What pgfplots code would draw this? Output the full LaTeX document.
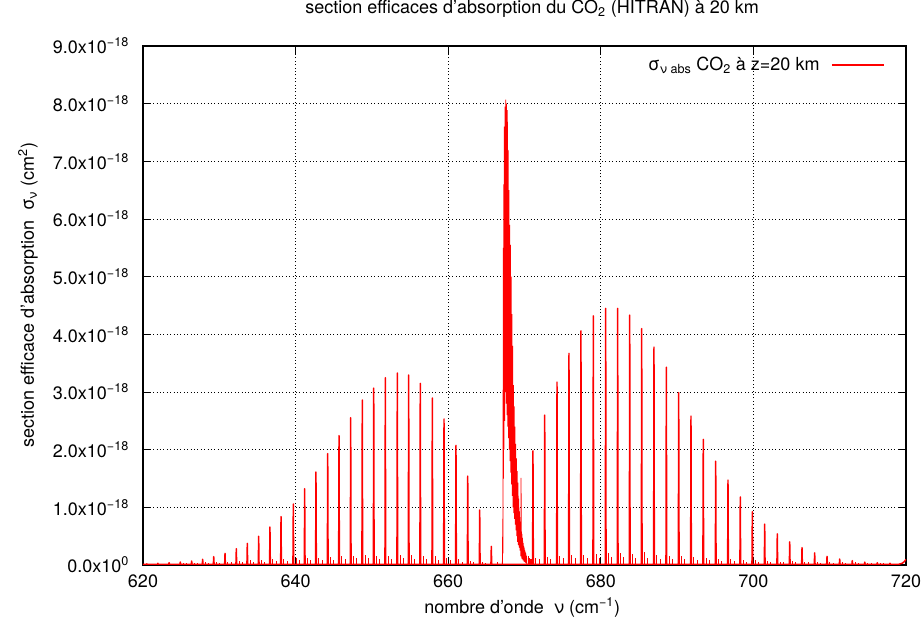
\documentclass[border=0pt]{standalone}
\usepackage{fontspec}
\setmainfont{TeX Gyre Heros}
\usepackage{pgfplots}
\pgfplotsset{compat=1.18}
\begin{document}
\begin{tikzpicture}
\useasboundingbox (-107.25bp,-42.75bp) rectangle (585.75bp,423.75bp);
\begin{axis}[
  at={(0,0)}, anchor=south west,
  scale only axis, width=572.25bp, height=389.25bp,
  font=\fontsize{13.5bp}{16bp}\selectfont,
  xmin=620, xmax=720, ymin=0, ymax=9,
  xtick={620,640,...,720},
  ytick={0,1,2,3,4,5,6,7,8,9},
  yticklabels={0.0x10\textsuperscript{0},1.0x10\textsuperscript{−18},2.0x10\textsuperscript{−18},3.0x10\textsuperscript{−18},4.0x10\textsuperscript{−18},5.0x10\textsuperscript{−18},6.0x10\textsuperscript{−18},7.0x10\textsuperscript{−18},8.0x10\textsuperscript{−18},9.0x10\textsuperscript{−18}},
  /pgf/number format/assume math mode=true,
  xticklabel style={yshift=-4bp},
  yticklabel style={xshift=-7bp},
  tick align=inside,
  major tick length=6bp,
  tick style={black, line width=0.75bp},
  axis line style={black, line width=1bp},
  grid=major,
  major grid style={black, line width=0.6bp, dash pattern=on 0.75bp off 1.8bp},
  title={section efficaces d’absorption du CO\textsubscript{2} (HITRAN) à 20 km},
  title style={at={(rel axis cs:0.51,1)}, anchor=center, yshift=22bp},
  xlabel={nombre d’onde\ \ ν (cm\textsuperscript{−1})},
  xlabel style={at={(rel axis cs:0.497,0)}, anchor=center, yshift=-32bp},
  ylabel={section efficace d’absorption\ \ σ\textsubscript{ν} (cm\textsuperscript{2})},
  ylabel style={at={(rel axis cs:-0.1507,0.52)}, anchor=center},
]
% main P and R branch lines (values in 1e-18 cm^2)
\addplot[red, line width=1.1bp, line join=round, mark=none, forget plot] coordinates {
(620,0.01)
(620.45,0.01)(620.5,0.02)(620.55,0.01)
(621.9,0.01)(621.95,0.03)(622.0,0.01)
(623.37,0.01)(623.42,0.04)(623.47,0.01)
(624.84,0.01)(624.89,0.052)(624.94,0.01)
(626.33,0.01)(626.38,0.069)(626.43,0.01)
(627.77,0.01)(627.82,0.099)(627.87,0.01)
(629.22,0.01)(629.27,0.144)(629.32,0.01)
(630.70,0.01)(630.75,0.203)(630.80,0.01)
(632.18,0.01)(632.23,0.283)(632.28,0.01)
(633.62,0.01)(633.67,0.376)(633.72,0.01)
(635.11,0.01)(635.16,0.498)(635.21,0.01)
(636.59,0.01)(636.64,0.659)(636.69,0.01)
(638.04,0.01)(638.09,0.838)(638.14,0.01)
(639.65,0.01)(639.70,1.058)(639.75,0.01)
(641.14,0.01)(641.19,1.323)(641.24,0.01)
(642.62,0.01)(642.67,1.613)(642.72,0.01)
(644.16,0.01)(644.21,1.930)(644.26,0.01)
(645.64,0.01)(645.69,2.242)(645.74,0.01)
(647.17,0.01)(647.22,2.554)(647.27,0.01)
(648.69,0.01)(648.74,2.861)(648.79,0.01)
(650.19,0.01)(650.24,3.069)(650.29,0.01)
(651.71,0.01)(651.76,3.248)(651.81,0.01)
(653.28,0.01)(653.33,3.329)(653.38,0.01)
(654.77,0.01)(654.82,3.295)(654.87,0.01)
(656.29,0.01)(656.34,3.151)(656.39,0.01)
(657.87,0.01)(657.92,2.896)(657.97,0.01)
(659.40,0.01)(659.45,2.532)(659.50,0.01)
(660.97,0.01)(661.02,2.076)(661.07,0.01)
(662.51,0.01)(662.56,1.543)(662.61,0.01)
(664.08,0.01)(664.13,0.954)(664.18,0.01)
(665.60,0.01)(665.65,0.324)(665.70,0.01)
(671.06,0.01)(671.11,1.98)(671.16,0.01)
(672.60,0.01)(672.65,2.60)(672.70,0.01)
(674.21,0.01)(674.26,3.17)(674.31,0.01)
(675.78,0.01)(675.83,3.67)(675.88,0.01)
(677.35,0.01)(677.40,4.06)(677.45,0.01)
(678.97,0.01)(679.02,4.32)(679.07,0.01)
(680.59,0.01)(680.64,4.45)(680.69,0.01)
(682.16,0.01)(682.21,4.45)(682.26,0.01)
(683.74,0.01)(683.79,4.335)(683.84,0.01)
(685.31,0.01)(685.36,4.10)(685.41,0.01)
(686.92,0.01)(686.97,3.78)(687.02,0.01)
(688.54,0.01)(688.59,3.43)(688.64,0.01)
(690.16,0.01)(690.21,2.99)(690.26,0.01)
(691.77,0.01)(691.82,2.58)(691.87,0.01)
(693.38,0.01)(693.43,2.18)(693.48,0.01)
(695.01,0.01)(695.06,1.80)(695.11,0.01)
(696.62,0.01)(696.67,1.47)(696.72,0.01)
(698.23,0.01)(698.28,1.18)(698.33,0.01)
(699.81,0.01)(699.86,0.925)(699.91,0.01)
(701.43,0.01)(701.48,0.71)(701.53,0.01)
(703.08,0.01)(703.13,0.54)(703.18,0.01)
(704.71,0.01)(704.76,0.40)(704.81,0.01)
(706.32,0.01)(706.37,0.30)(706.42,0.01)
(707.98,0.01)(708.03,0.21)(708.08,0.01)
(709.60,0.01)(709.65,0.15)(709.70,0.01)
(711.26,0.01)(711.31,0.104)(711.36,0.01)
(712.91,0.01)(712.96,0.075)(713.01,0.01)
(714.55,0.01)(714.60,0.05)(714.65,0.01)
(716.19,0.01)(716.24,0.04)(716.29,0.01)
(717.85,0.01)(717.90,0.03)(717.95,0.01)
(719.0,0.01)(719.5,0.03)(719.7,0.05)(719.85,0.07)(720,0.10)
};
% Q branch (dense lines)
\addplot[red, line width=0.6bp, mark=none, forget plot] coordinates {
(667.10,0.02)(667.16,0.8)(667.18,0.2)(667.22,5.5)(667.25,1.5)(667.28,6.6)(667.31,2.0)
(667.35,7.6)(667.40,2.5)(667.45,7.95)(667.50,3.0)(667.55,8.07)(667.60,2.8)
(667.65,8.0)(667.70,2.6)(667.75,7.89)(667.80,2.4)(667.85,7.2)(667.90,2.2)
(667.95,6.5)(668.00,2.0)(668.05,5.9)(668.10,1.8)(668.15,5.55)(668.20,1.6)
(668.25,5.0)(668.30,1.4)(668.35,4.35)(668.40,1.2)(668.45,3.8)(668.50,1.0)
(668.55,3.12)(668.60,0.9)(668.65,2.75)(668.70,0.8)(668.75,2.4)(668.80,0.7)
(668.85,2.1)(668.90,0.6)(668.95,1.85)(669.00,0.5)(669.05,1.63)(669.10,0.4)
(669.15,1.43)(669.20,0.35)(669.25,1.15)(669.30,0.3)(669.35,0.93)(669.40,0.25)
(669.45,0.75)(669.50,0.2)(669.53,0.15)(669.55,1.51)(669.57,0.15)(669.60,0.58)
(669.63,0.12)(669.66,0.54)(669.69,0.1)(669.72,0.47)(669.75,0.1)(669.78,0.42)
(669.81,0.08)(669.84,0.38)(669.87,0.08)(669.90,0.33)(669.93,0.06)(669.96,0.30)
(669.99,0.06)(670.02,0.26)(670.05,0.05)(670.09,0.23)(670.13,0.04)(670.17,0.21)
(670.21,0.03)(670.26,0.16)(670.31,0.02)
};
% weak (hot band) lines
\addplot[red, line width=0.6bp, ycomb, mark=none, forget plot] coordinates {
(625.24,0.03)(625.69,0.04)(626.73,0.04)(627.18,0.03)(628.17,0.05)(628.62,0.04)
(629.62,0.05)(630.07,0.04)(631.10,0.06)(631.55,0.05)(632.58,0.07)(633.03,0.05)
(634.02,0.08)(634.47,0.06)(635.51,0.09)(635.96,0.06)(636.99,0.10)(637.44,0.07)
(638.44,0.11)(638.89,0.07)(640.05,0.12)(640.50,0.08)(641.54,0.12)(641.99,0.08)
(643.02,0.13)(643.47,0.09)(644.56,0.14)(645.01,0.09)(646.04,0.15)(646.49,0.10)
(647.57,0.16)(648.02,0.12)(649.09,0.18)(649.54,0.12)(650.59,0.16)(651.04,0.10)
(652.11,0.16)(652.56,0.10)(653.68,0.18)(654.13,0.12)(655.17,0.17)(655.62,0.10)
(656.69,0.16)(657.14,0.10)(658.27,0.15)(658.72,0.09)(659.80,0.13)(660.25,0.08)
(661.37,0.10)(661.82,0.06)(662.91,0.07)(663.36,0.05)(664.48,0.05)(664.93,0.04)
(666.40,0.05)(670.45,0.15)(670.62,0.12)(670.80,0.10)(670.95,0.10)
(671.46,0.12)(671.91,0.10)(673.00,0.14)(673.45,0.10)(674.61,0.16)(675.06,0.12)
(676.18,0.17)(676.63,0.12)(677.75,0.18)(678.20,0.13)(679.37,0.19)(679.82,0.13)
(680.99,0.20)(681.44,0.14)(682.56,0.20)(683.01,0.14)(684.14,0.19)(684.59,0.13)
(685.71,0.22)(686.16,0.12)(687.32,0.18)(687.77,0.11)(688.94,0.16)(689.39,0.10)
(690.56,0.15)(691.01,0.10)(692.17,0.14)(692.62,0.09)(693.78,0.12)(694.23,0.08)
(695.41,0.11)(695.86,0.07)(697.02,0.10)(697.47,0.07)(698.63,0.09)(699.08,0.06)
(700.21,0.08)(700.66,0.06)(701.83,0.07)(702.28,0.05)(703.48,0.06)(703.93,0.05)
(705.11,0.07)(705.56,0.05)(706.72,0.06)(707.17,0.05)(708.38,0.06)(708.83,0.04)
(710.00,0.06)(710.45,0.04)(711.66,0.05)(712.11,0.04)(713.31,0.05)(713.76,0.04)
(714.95,0.04)(715.40,0.03)(716.59,0.04)(717.04,0.03)
};
% legend: sample line and its text
\addplot[red, line width=1.2bp, mark=none, forget plot] coordinates {(710.3,8.667)(717.1,8.667)};
\node[anchor=east, inner sep=0pt] at (rel axis cs:0.887,0.963) {σ\textsubscript{ν abs} CO\textsubscript{2} à z=20 km};
\end{axis}
\end{tikzpicture}
\end{document}
